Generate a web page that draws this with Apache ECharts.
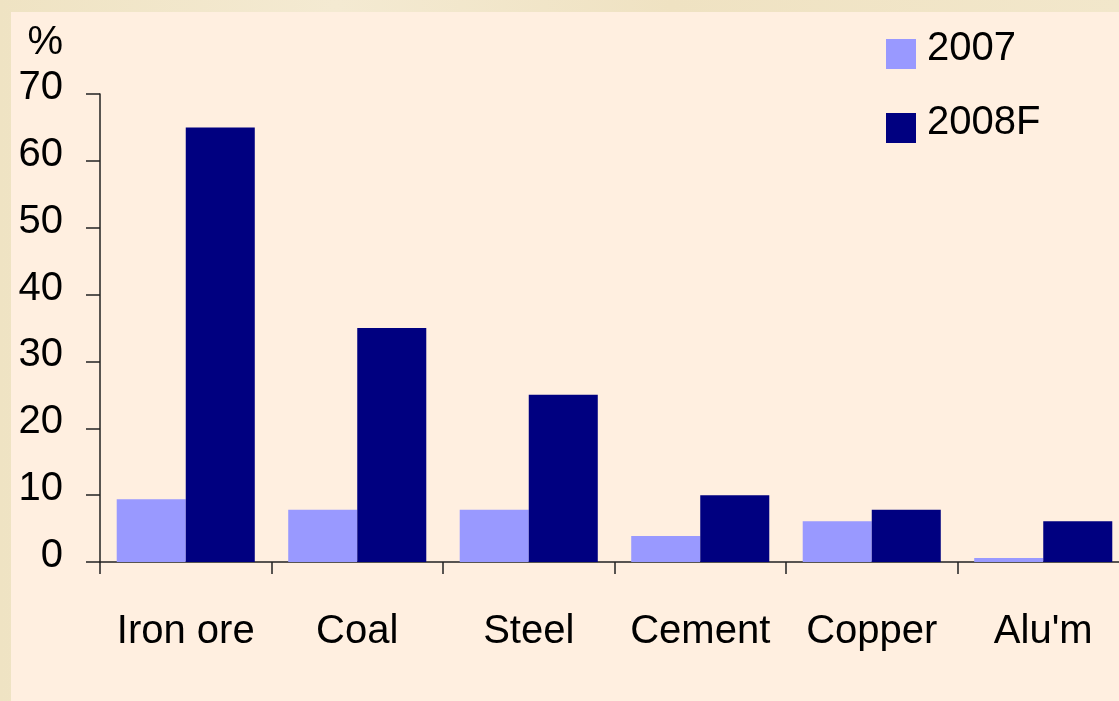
<!DOCTYPE html>
<html>
<head>
<meta charset="utf-8">
<script src="https://cdn.jsdelivr.net/npm/echarts@6/dist/echarts.min.js"></script>
<style>
  html, body { margin: 0; padding: 0; width: 1119px; height: 701px; overflow: hidden;
    background: linear-gradient(90deg, #efe3c3 0%, #f4ead2 30%, #efe2c2 60%, #f2e7cb 100%); }
  #panel { position: absolute; left: 11px; top: 12px; right: 0; bottom: 0; background: #ffefe0; }
  #chart { position: absolute; left: 0; top: 0; width: 1119px; height: 701px; }
</style>
</head>
<body>
<div id="panel"></div>
<div id="chart"></div>
<script>
// Commodity price changes, per cent
const categories = ['Iron ore', 'Coal', 'Steel', 'Cement', 'Copper', "Alu'm"];
const values2007 = [9.4, 7.8, 7.8, 3.9, 6.1, 0.6];
const values2008F = [65, 35, 25, 10, 7.8, 6.1];
const seriesNames = ['2007', '2008F'];
const yTicks = { min: 0, max: 70, interval: 10 };

const font = '"Liberation Sans", Arial, sans-serif';
const chart = echarts.init(document.getElementById('chart'), null, { renderer: 'canvas' });

chart.setOption({
  backgroundColor: 'transparent',
  animation: false,
  // the plot runs a little past the right edge of the page
  grid: { left: 100, width: 1029, top: 94, bottom: 139, containLabel: false, outerBoundsMode: 'none' },
  legend: {
    orient: 'vertical',
    left: 886,
    top: 29,
    padding: 0,
    itemWidth: 30,
    itemHeight: 30,
    itemGap: 34,
    icon: 'rect',
    formatter: '{t|{name}}',
    textStyle: {
      fontFamily: font, fontSize: 40, color: '#000',
      rich: { t: { fontFamily: font, fontSize: 40, color: '#000', padding: [0, 0, 10, 6] } }
    },
    data: seriesNames
  },
  xAxis: {
    type: 'category',
    data: categories,
    axisLine: { lineStyle: { color: '#222', width: 1.5 } },
    axisTick: { show: true, length: 12, lineStyle: { color: '#222', width: 1.5 } },
    axisLabel: { fontFamily: font, fontSize: 40, color: '#000', margin: 50, interval: 0 },
    splitLine: { show: false }
  },
  yAxis: {
    type: 'value',
    min: yTicks.min,
    max: yTicks.max,
    interval: yTicks.interval,
    name: '%',
    nameLocation: 'end',
    nameGap: 31,
    nameTextStyle: { fontFamily: font, fontSize: 40, color: '#000', align: 'right', verticalAlign: 'bottom', padding: [0, 37, 0, 0] },
    axisLine: { show: true, lineStyle: { color: '#222', width: 1.5 } },
    axisTick: { show: true, inside: false, length: 14, lineStyle: { color: '#222', width: 1.5 } },
    axisLabel: {
      margin: 37,
      formatter: '{v|{value}}',
      rich: { v: { fontFamily: font, fontSize: 40, color: '#000', padding: [0, 0, 12, 0] } }
    },
    splitLine: { show: false }
  },
  series: [
    {
      name: seriesNames[0],
      type: 'bar',
      data: values2007,
      barGap: '0%',
      barCategoryGap: '19.5%',
      itemStyle: { color: '#9999ff' }
    },
    {
      name: seriesNames[1],
      type: 'bar',
      data: values2008F,
      barGap: '0%',
      barCategoryGap: '19.5%',
      itemStyle: { color: '#000080' }
    }
  ]
});
</script>
</body>
</html>
